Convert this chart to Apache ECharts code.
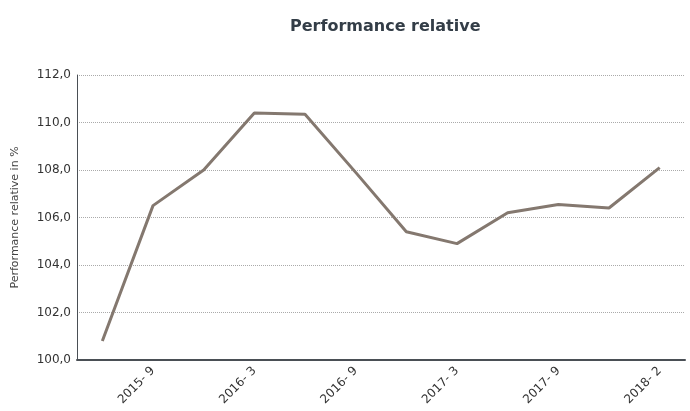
<!DOCTYPE html>
<html>
<head>
<meta charset="utf-8">
<script src="https://cdn.jsdelivr.net/npm/echarts@6/dist/echarts.min.js"></script>
<style>
  html, body { margin: 0; padding: 0; background: #fff; }
  #chart { width: 690px; height: 411px; }
</style>
</head>
<body>
<div id="chart"></div>
<script>
const categories = ['2015- 6', '2015- 9', '2015- 12', '2016- 3', '2016- 6', '2016- 9',
  '2016- 12', '2017- 3', '2017- 6', '2017- 9', '2017- 12', '2018- 2']
const performance = [100.8, 106.5, 108.0, 110.4, 110.35, 107.9,
  105.4, 104.9, 106.2, 106.55, 106.4, 108.1]

const chart = echarts.init(document.getElementById('chart'))
const font = '"DejaVu Sans", sans-serif'

const options = {
  textStyle: { fontFamily: font },
  title: {
    text: 'Performance relative',
    left: 285,
    top: 14,
    textStyle: { fontSize: 16, fontWeight: 'bold', color: '#333d47', fontFamily: font },
  },
  grid: {
    left: 77,
    right: 5,
    top: 75,
    bottom: 51,
  },
  xAxis: {
    type: 'category',
    data: categories,
    boundaryGap: true,
    axisLine: { lineStyle: { color: '#4a4f55', width: 2 } },
    axisTick: { show: false },
    axisLabel: {
      // only every other quarter is labelled
      interval: (index) => index % 2 === 1,
      rotate: 45,
      fontSize: 12,
      color: '#333',
      fontFamily: font,
      margin: 9,
    },
  },
  yAxis: {
    type: 'value',
    min: 100,
    max: 112,
    interval: 2,
    name: 'Performance relative in %',
    nameLocation: 'middle',
    nameGap: 56,
    nameTextStyle: { fontSize: 11, color: '#444', fontFamily: font },
    axisLine: { show: true, lineStyle: { color: '#4a4f55', width: 1 } },
    axisTick: { show: false },
    axisLabel: {
      formatter: (v) => v.toFixed(1).replace('.', ','),
      fontSize: 12,
      color: '#333',
      fontFamily: font,
      margin: 6,
    },
    splitLine: {
      show: true,
      lineStyle: { color: '#aaa', width: 1, type: [1, 1] },
    },
  },
  series: [
    {
      name: 'Performance relative',
      type: 'line',
      data: performance,
      symbol: 'none',
      lineStyle: { color: '#84786f', width: 3 },
      itemStyle: { color: '#84786f' },
      animation: false,
    },
  ],
}
chart.setOption(options, true)
</script>
</body>
</html>
